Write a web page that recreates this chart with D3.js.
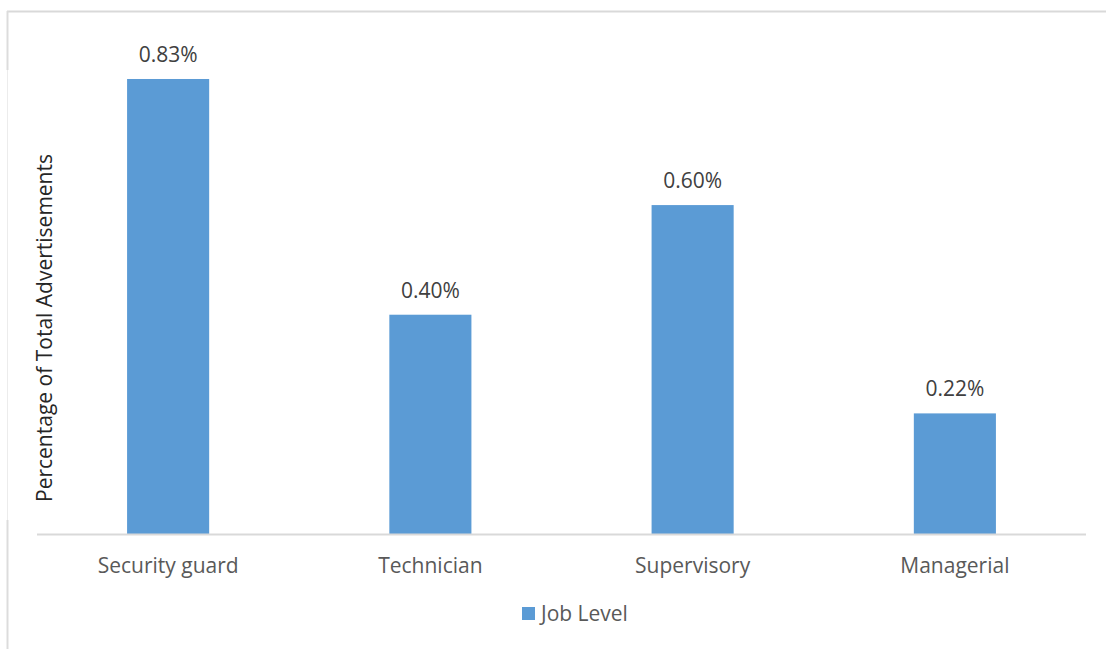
<!DOCTYPE html>
<html>
<head>
<meta charset="utf-8">
<script src="https://cdn.jsdelivr.net/npm/d3@7"></script>
<style>
  html, body { margin: 0; padding: 0; background: #fff; }
  svg { display: block; font-family: "Open Sans", sans-serif; }
</style>
</head>
<body>
<svg id="chart" width="1106" height="649"></svg>
<script>
// Share of total advertisements by job level (%)
const categories = ["Security guard", "Technician", "Supervisory", "Managerial"];
const values = [0.83, 0.40, 0.60, 0.22];
const seriesName = "Job Level";
const yTitle = "Percentage of Total Advertisements";

const svg = d3.select("#chart");
const W = 1106, H = 649;

// outer frame
svg.append("line").attr("x1", 7).attr("x2", W).attr("y1", 11.5).attr("y2", 11.5)
  .attr("stroke", "#d9d9d9").attr("stroke-width", 2);
svg.append("line").attr("x1", 7.5).attr("x2", 7.5).attr("y1", 11).attr("y2", H)
  .attr("stroke", "#ececec").attr("stroke-width", 1);
svg.append("line").attr("x1", 7.5).attr("x2", 7.5).attr("y1", 11).attr("y2", 70)
  .attr("stroke", "#dcdcdc").attr("stroke-width", 2);
svg.append("line").attr("x1", 7.5).attr("x2", 7.5).attr("y1", 520).attr("y2", H)
  .attr("stroke", "#dcdcdc").attr("stroke-width", 2);

const x = d3.scaleBand()
  .domain(categories)
  .range([37, 1086])
  .paddingInner(0.687)
  .paddingOuter(0.3435);

const baseY = 534;
const y = d3.scaleLinear().domain([0, 0.9]).range([baseY, baseY - 0.9 * 548.2]);

// bars
svg.append("g").selectAll("rect")
  .data(values)
  .join("rect")
  .attr("x", (d, i) => x(categories[i]))
  .attr("y", d => y(d))
  .attr("width", x.bandwidth())
  .attr("height", d => y(0) - y(d))
  .attr("fill", "#5b9bd5");

// value labels
svg.append("g").selectAll("text")
  .data(values)
  .join("text")
  .attr("x", (d, i) => x(categories[i]) + x.bandwidth() / 2)
  .attr("y", d => y(d) - 17)
  .attr("text-anchor", "middle")
  .attr("font-size", 21)
  .attr("fill", "#404040")
  .text(d => d.toFixed(2) + "%");

// category axis
const xAxis = svg.append("g")
  .attr("transform", `translate(0,${baseY})`)
  .call(d3.axisBottom(x).tickSize(0).tickPadding(0));
xAxis.select(".domain").attr("stroke", "#d9d9d9").attr("stroke-width", 2)
  .attr("d", "M37,0.5H1086");
xAxis.selectAll(".tick text")
  .attr("font-family", "Open Sans, sans-serif")
  .attr("font-size", 21)
  .attr("fill", "#595959")
  .attr("dy", null)
  .attr("y", 39);

// y axis title
svg.append("text")
  .attr("transform", "translate(52,328) rotate(-90)")
  .attr("text-anchor", "middle")
  .attr("font-size", 21)
  .attr("fill", "#262626")
  .text(yTitle);

// legend
const legend = svg.append("g").attr("transform", "translate(522,607)");
legend.append("rect").attr("width", 13).attr("height", 13).attr("fill", "#5b9bd5");
legend.append("text").attr("x", 19).attr("y", 13.5)
  .attr("font-size", 21).attr("fill", "#595959").text(seriesName);
</script>
</body>
</html>
